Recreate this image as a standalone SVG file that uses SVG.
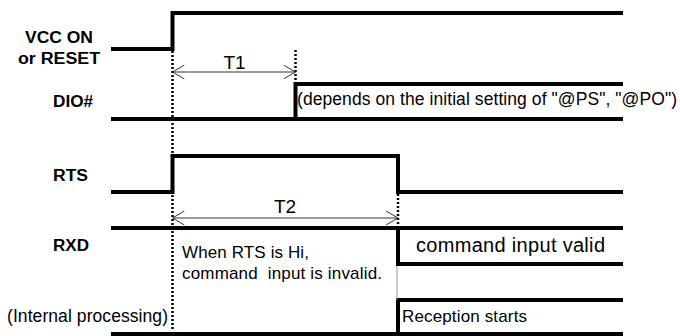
<svg xmlns="http://www.w3.org/2000/svg" width="680" height="336" viewBox="0 0 680 336">
<defs>
<style>
.sig{fill:none;stroke:#000;stroke-width:4;stroke-linejoin:miter;stroke-linecap:butt}
.dot{fill:none;stroke:#000;stroke-width:2.5;stroke-dasharray:2 2}
.dim{fill:none;stroke:#333;stroke-width:1}
.lbl{font-family:"Liberation Sans",Arial,sans-serif;font-weight:bold;font-size:16px;fill:#000}
.txt{font-family:"Liberation Sans",Arial,sans-serif;fill:#000}
.s17{font-size:17px}
.s175{font-size:17.5px}
.s19{font-size:19px}
.s20{font-size:20px}
</style>
<marker id="ah" viewBox="0 0 12 14" refX="12" refY="7" markerWidth="12" markerHeight="14" markerUnits="userSpaceOnUse" orient="auto-start-reverse">
<path d="M0,0 L12,7 L0,14" fill="none" stroke="#333" stroke-width="1"/>
</marker>
</defs>
<rect width="680" height="336" fill="#fff"/>
<g id="labels">
<text class="lbl" x="25" y="42.5" textLength="68" lengthAdjust="spacingAndGlyphs">VCC ON</text>
<text class="lbl" x="18" y="63.5" textLength="82" lengthAdjust="spacingAndGlyphs">or RESET</text>
<text class="lbl" x="53" y="107" textLength="40" lengthAdjust="spacingAndGlyphs">DIO#</text>
<text class="lbl" x="53" y="180.5" textLength="35" lengthAdjust="spacingAndGlyphs">RTS</text>
<text class="lbl" x="53" y="250.5" textLength="36" lengthAdjust="spacingAndGlyphs">RXD</text>
<text class="txt s175" x="7" y="322" textLength="161" lengthAdjust="spacing">(Internal processing)</text>
</g>
<g id="vcc">
<polyline class="sig" points="111,49 172.5,49 172.5,13 623,13"/>
</g>
<g id="dio">
<polyline class="sig" points="111,119 623,119"/>
<polyline class="sig" points="295.5,119 295.5,84 623,84"/>
<text class="txt s175" x="297" y="105" textLength="380" lengthAdjust="spacing">(depends on the initial setting of "@PS", "@PO")</text>
</g>
<g id="rts">
<polyline class="sig" points="111,192 172.5,192 172.5,156 398,156 398,192 623,192"/>
</g>
<g id="rxd">
<polyline class="sig" points="111,228 623,228"/>
<polyline class="sig" points="398,228 398,264 623,264"/>
<text class="txt s20" x="416" y="251.5" textLength="189" lengthAdjust="spacing">command input valid</text>
<text class="txt s17" x="182" y="258" textLength="127" lengthAdjust="spacing">When RTS is Hi,</text>
<text class="txt s17" x="182" y="279" textLength="200" lengthAdjust="spacing" xml:space="preserve">command  input is invalid.</text>
</g>
<g id="internal">
<polyline class="sig" points="111,334 623,334"/>
<polyline class="sig" points="398,334 398,300 623,300"/>
<text class="txt s17" x="402" y="322" textLength="125" lengthAdjust="spacing">Reception starts</text>
</g>
<g id="connectors">
<line class="dot" x1="172.5" y1="51" x2="172.5" y2="330"/>
<line class="dot" x1="295.5" y1="50" x2="295.5" y2="84"/>
<line class="dot" x1="398" y1="194" x2="398" y2="228"/>
<line x1="397" y1="266" x2="397" y2="300" stroke="#999" stroke-width="1"/>
<line class="dim" x1="172.5" y1="72" x2="295.5" y2="72" marker-start="url(#ah)" marker-end="url(#ah)"/>
<text class="txt s19" x="234.5" y="69" text-anchor="middle">T1</text>
<line class="dim" x1="172.5" y1="218" x2="398" y2="218" marker-start="url(#ah)" marker-end="url(#ah)"/>
<text class="txt s19" x="285" y="213" text-anchor="middle">T2</text>
</g>
</svg>
